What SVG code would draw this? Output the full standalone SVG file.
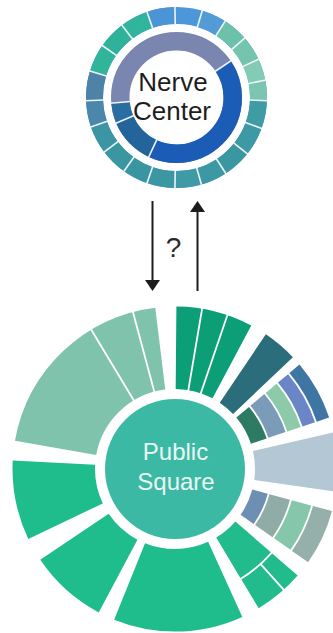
<svg xmlns="http://www.w3.org/2000/svg" xmlns:xlink="http://www.w3.org/1999/xlink" width="333" height="633" viewBox="0 0 333 633">
<style>
.nc{fill:none;stroke-width:17}
.ni{fill:none;stroke-width:18.5}
.ps{fill:none}
.nsep{stroke:#eef7fa;stroke-width:1.6}
.psep{stroke:#ffffff;stroke-width:1.8}
.lbl{font-family:"Liberation Sans",Arial,sans-serif;text-anchor:middle}
.conn{stroke:#1c1c1c;stroke-width:2;fill:none}
</style>
<defs>
<line id="nso" x1="176.5" y1="6" x2="176.5" y2="25"/>
<line id="nsi" x1="176.5" y1="31" x2="176.5" y2="51.5"/>
<line id="psa" x1="175" y1="305" x2="175" y2="390"/>
<line id="psg" x1="175" y1="305" x2="175" y2="341"/>
<marker id="ah" markerUnits="userSpaceOnUse" markerWidth="11" markerHeight="15" viewBox="0 0 11 15" refX="0" refY="7.5" orient="auto">
<path d="M0,0 L11,7.5 L0,15 z" fill="#1c1c1c"/>
</marker>
</defs>
<rect width="333" height="633" fill="#ffffff"/>

<g id="nerve-center">
<g transform="rotate(-90 176.5 97.5)">
<circle class="nc" cx="176.5" cy="97.5" r="82" stroke="#4b97d9"/>
<circle class="nc" cx="176.5" cy="97.5" r="82" pathLength="360" stroke="#529bd6" stroke-dasharray="16 344" stroke-dashoffset="-16.5"/>
<circle class="nc" cx="176.5" cy="97.5" r="82" pathLength="360" stroke="#6dc1aa" stroke-dasharray="16.5 343.5" stroke-dashoffset="-32.5"/>
<circle class="nc" cx="176.5" cy="97.5" r="82" pathLength="360" stroke="#75c5ad" stroke-dasharray="16 344" stroke-dashoffset="-49"/>
<circle class="nc" cx="176.5" cy="97.5" r="82" pathLength="360" stroke="#84cbb5" stroke-dasharray="14 346" stroke-dashoffset="-65"/>
<circle class="nc" cx="176.5" cy="97.5" r="82" pathLength="360" stroke="#7dc5b1" stroke-dasharray="13 347" stroke-dashoffset="-79"/>
<circle class="nc" cx="176.5" cy="97.5" r="82" pathLength="360" stroke="#3f9ca5" stroke-dasharray="18 342" stroke-dashoffset="-92"/>
<circle class="nc" cx="176.5" cy="97.5" r="82" pathLength="360" stroke="#3d99a4" stroke-dasharray="18.5 341.5" stroke-dashoffset="-110"/>
<circle class="nc" cx="176.5" cy="97.5" r="82" pathLength="360" stroke="#3a97a2" stroke-dasharray="18.5 341.5" stroke-dashoffset="-128.5"/>
<circle class="nc" cx="176.5" cy="97.5" r="82" pathLength="360" stroke="#3c99a3" stroke-dasharray="17 343" stroke-dashoffset="-147"/>
<circle class="nc" cx="176.5" cy="97.5" r="82" pathLength="360" stroke="#3e9ba5" stroke-dasharray="17 343" stroke-dashoffset="-164"/>
<circle class="nc" cx="176.5" cy="97.5" r="82" pathLength="360" stroke="#3b98a2" stroke-dasharray="18 342" stroke-dashoffset="-181"/>
<circle class="nc" cx="176.5" cy="97.5" r="82" pathLength="360" stroke="#3996a1" stroke-dasharray="16.5 343.5" stroke-dashoffset="-199"/>
<circle class="nc" cx="176.5" cy="97.5" r="82" pathLength="360" stroke="#3a97a2" stroke-dasharray="17.5 342.5" stroke-dashoffset="-215.5"/>
<circle class="nc" cx="176.5" cy="97.5" r="82" pathLength="360" stroke="#3c95a3" stroke-dasharray="18 342" stroke-dashoffset="-233"/>
<circle class="nc" cx="176.5" cy="97.5" r="82" pathLength="360" stroke="#4a87aa" stroke-dasharray="17 343" stroke-dashoffset="-251"/>
<circle class="nc" cx="176.5" cy="97.5" r="82" pathLength="360" stroke="#4e82a7" stroke-dasharray="19 341" stroke-dashoffset="-268"/>
<circle class="nc" cx="176.5" cy="97.5" r="82" pathLength="360" stroke="#30b59b" stroke-dasharray="18 342" stroke-dashoffset="-287"/>
<circle class="nc" cx="176.5" cy="97.5" r="82" pathLength="360" stroke="#2eb39a" stroke-dasharray="18 342" stroke-dashoffset="-305"/>
<circle class="nc" cx="176.5" cy="97.5" r="82" pathLength="360" stroke="#31b49c" stroke-dasharray="18 342" stroke-dashoffset="-323"/>
<circle class="nc" cx="176.5" cy="97.5" r="82" pathLength="360" stroke="#4b94d6" stroke-dasharray="18 342" stroke-dashoffset="-341"/>
<circle class="ni" cx="176.5" cy="97.5" r="56.25" stroke="#7a85b0"/>
<circle class="ni" cx="176.5" cy="97.5" r="56.25" pathLength="360" stroke="#1b5cb7" stroke-dasharray="149 211" stroke-dashoffset="-56"/>
<circle class="ni" cx="176.5" cy="97.5" r="56.25" pathLength="360" stroke="#23649a" stroke-dasharray="42 318" stroke-dashoffset="-205"/>
<circle class="ni" cx="176.5" cy="97.5" r="56.25" pathLength="360" stroke="#2a6da2" stroke-dasharray="18 342" stroke-dashoffset="-247"/>
</g>
<g class="nsep">
<use xlink:href="#nso" transform="rotate(-1 176.5 97.5)"/>
<use xlink:href="#nso" transform="rotate(16.5 176.5 97.5)"/>
<use xlink:href="#nso" transform="rotate(32.5 176.5 97.5)"/>
<use xlink:href="#nso" transform="rotate(49 176.5 97.5)"/>
<use xlink:href="#nso" transform="rotate(65 176.5 97.5)"/>
<use xlink:href="#nso" transform="rotate(79 176.5 97.5)"/>
<use xlink:href="#nso" transform="rotate(92 176.5 97.5)"/>
<use xlink:href="#nso" transform="rotate(110 176.5 97.5)"/>
<use xlink:href="#nso" transform="rotate(128.5 176.5 97.5)"/>
<use xlink:href="#nso" transform="rotate(147 176.5 97.5)"/>
<use xlink:href="#nso" transform="rotate(164 176.5 97.5)"/>
<use xlink:href="#nso" transform="rotate(181 176.5 97.5)"/>
<use xlink:href="#nso" transform="rotate(199 176.5 97.5)"/>
<use xlink:href="#nso" transform="rotate(215.5 176.5 97.5)"/>
<use xlink:href="#nso" transform="rotate(233 176.5 97.5)"/>
<use xlink:href="#nso" transform="rotate(251 176.5 97.5)"/>
<use xlink:href="#nso" transform="rotate(268 176.5 97.5)"/>
<use xlink:href="#nso" transform="rotate(287 176.5 97.5)"/>
<use xlink:href="#nso" transform="rotate(305 176.5 97.5)"/>
<use xlink:href="#nso" transform="rotate(323 176.5 97.5)"/>
<use xlink:href="#nso" transform="rotate(341 176.5 97.5)"/>
<use xlink:href="#nsi" transform="rotate(56 176.5 97.5)"/>
<use xlink:href="#nsi" transform="rotate(205 176.5 97.5)"/>
<use xlink:href="#nsi" transform="rotate(247 176.5 97.5)"/>
<use xlink:href="#nsi" transform="rotate(265 176.5 97.5)"/>
</g>
<text class="lbl" x="173" y="91" font-size="26" fill="#1e1e1e">Nerve</text>
<text class="lbl" x="172" y="119.5" font-size="26" fill="#1e1e1e">Center</text>
</g>

<g id="public-square">
<g transform="rotate(-90 175 469)">
<circle class="ps" cx="175" cy="469" r="121.25" stroke-width="82.5" pathLength="360" stroke="#80c3ad" stroke-dasharray="73 287" stroke-dashoffset="-280"/>
<circle class="ps" cx="175" cy="469" r="121.25" stroke-width="82.5" pathLength="360" stroke="#0c9e77" stroke-dasharray="27.5 332.5" stroke-dashoffset="-0.5"/>
<circle class="ps" cx="175" cy="469" r="121.25" stroke-width="82.5" pathLength="360" stroke="#2c6d7b" stroke-dasharray="12.5 347.5" stroke-dashoffset="-34"/>
<circle class="ps" cx="175" cy="469" r="88.3" stroke-width="16.6" pathLength="360" stroke="#2d7b62" stroke-dasharray="21.5 338.5" stroke-dashoffset="-50"/>
<circle class="ps" cx="175" cy="469" r="107.5" stroke-width="18.2" pathLength="360" stroke="#7b9cb8" stroke-dasharray="21.5 338.5" stroke-dashoffset="-50"/>
<circle class="ps" cx="175" cy="469" r="125.5" stroke-width="14.2" pathLength="360" stroke="#8ccaa9" stroke-dasharray="21.5 338.5" stroke-dashoffset="-50"/>
<circle class="ps" cx="175" cy="469" r="141" stroke-width="13.2" pathLength="360" stroke="#6b86c6" stroke-dasharray="21.5 338.5" stroke-dashoffset="-50"/>
<circle class="ps" cx="175" cy="469" r="155.95" stroke-width="13.1" pathLength="360" stroke="#3e75a3" stroke-dasharray="21.5 338.5" stroke-dashoffset="-50"/>
<circle class="ps" cx="175" cy="469" r="124" stroke-width="88" pathLength="360" stroke="#b3c7d5" stroke-dasharray="21 339" stroke-dashoffset="-77"/>
<circle class="ps" cx="175" cy="469" r="88" stroke-width="16" pathLength="360" stroke="#6e8fb4" stroke-dasharray="20 340" stroke-dashoffset="-105"/>
<circle class="ps" cx="175" cy="469" r="108.4" stroke-width="21.2" pathLength="360" stroke="#8fada6" stroke-dasharray="20 340" stroke-dashoffset="-105"/>
<circle class="ps" cx="175" cy="469" r="130.9" stroke-width="20.2" pathLength="360" stroke="#86c7ab" stroke-dasharray="20 340" stroke-dashoffset="-105"/>
<circle class="ps" cx="175" cy="469" r="152.65" stroke-width="19.7" pathLength="360" stroke="#95b0aa" stroke-dasharray="20 340" stroke-dashoffset="-105"/>
<circle class="ps" cx="175" cy="469" r="103.5" stroke-width="47" pathLength="360" stroke="#22bb8b" stroke-dasharray="18 342" stroke-dashoffset="-131"/>
<circle class="ps" cx="175" cy="469" r="145.65" stroke-width="33.7" pathLength="360" stroke="#22bb8b" stroke-dasharray="18 342" stroke-dashoffset="-131"/>
<circle class="ps" cx="175" cy="469" r="121.25" stroke-width="82.5" pathLength="360" stroke="#20bd8c" stroke-dasharray="46.5 313.5" stroke-dashoffset="-155.5"/>
<circle class="ps" cx="175" cy="469" r="121.25" stroke-width="82.5" pathLength="360" stroke="#20bd8c" stroke-dasharray="28 332" stroke-dashoffset="-208"/>
<circle class="ps" cx="175" cy="469" r="121.25" stroke-width="82.5" pathLength="360" stroke="#20bd8c" stroke-dasharray="28.5 331.5" stroke-dashoffset="-244.5"/>
</g>
<g class="psep">
<use xlink:href="#psa" transform="rotate(329 175 469)"/>
<use xlink:href="#psa" transform="rotate(345 175 469)"/>
<use xlink:href="#psa" transform="rotate(9.6 175 469)"/>
<use xlink:href="#psa" transform="rotate(18.8 175 469)"/>
<use xlink:href="#psg" transform="rotate(138 175 469)"/>
</g>
<circle cx="175" cy="469" r="70" fill="#3cb9a4"/>
<text class="lbl" x="175.5" y="460" font-size="24" fill="#eaf8f4">Public</text>
<text class="lbl" x="176" y="490" font-size="24" fill="#eaf8f4">Square</text>
</g>

<g id="connectors">
<line class="conn" x1="152.5" y1="201" x2="152.5" y2="280" marker-end="url(#ah)"/>
<line class="conn" x1="197.5" y1="291" x2="197.5" y2="212" marker-end="url(#ah)"/>
<text class="lbl" x="173.5" y="257" font-size="28" fill="#2a2a2a">?</text>
</g>
</svg>
